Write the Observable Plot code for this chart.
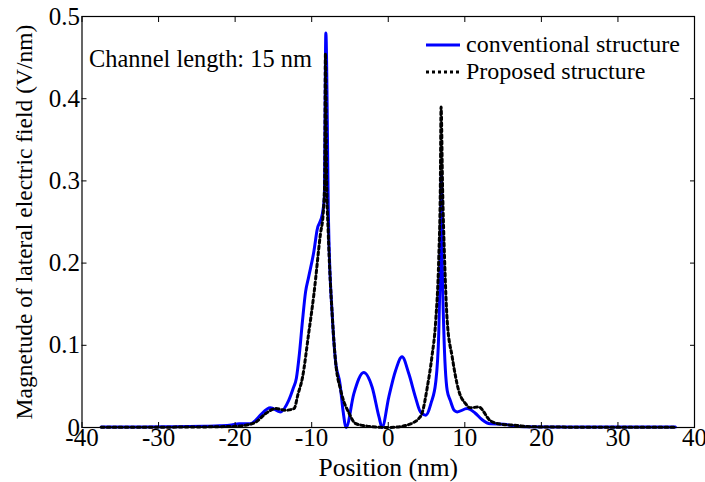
<!DOCTYPE html>
<html>
<head>
<meta charset="utf-8">
<script src="https://cdn.jsdelivr.net/npm/d3@7"></script>
<script src="https://cdn.jsdelivr.net/npm/@observablehq/plot@0.6"></script>
<style>
  body { margin: 0; background: #fff; }
  #chart { position: relative; width: 705px; height: 482px; font-family: "Liberation Serif", "Times New Roman", serif; color: #000; }
  .legend { position: absolute; left: 426px; top: 31px; font-size: 24px; line-height: 27px; }
  .legend .row { display: flex; align-items: center; white-space: nowrap; }
  .legend svg { margin-right: 4px; }
</style>
</head>
<body>
<div id="chart"></div>
<script>
// ---- data ----
const convX = [-37.5, -32, -28, -24, -22, -20.5, -19.5, -18, -17.3, -16.7, -15.4, -14.1, -13, -12.4, -12, -11.6, -11.2, -10.8, -10.4, -9.7, -9.3, -8.6, -8.35, -8.15, -7.8, -7.3, -6.9, -6.3, -5.9, -5.5, -4.5, -3.2, -2.1, -1.2, -0.8, 0.07, 0.95, 1.8, 2.7, 3.55, 4.2, 4.9, 5.6, 6.2, 6.6, 6.8, 6.95, 7.05, 7.25, 7.7, 8.1, 8.6, 9.0, 10.3, 11.3, 12.2, 13.3, 15.1, 16.3, 17.7, 22, 30, 37.5];
const convY = [0.0005, 0.0006, 0.001, 0.0015, 0.002, 0.003, 0.0045, 0.0045, 0.009, 0.015, 0.024, 0.019, 0.033, 0.048, 0.06, 0.09, 0.13, 0.165, 0.183, 0.215, 0.24, 0.26, 0.28, 0.48, 0.25, 0.134, 0.082, 0.053, 0.02, 0.0, 0.041, 0.067, 0.049, 0.0125, 0.0, 0.037, 0.069, 0.086, 0.065, 0.037, 0.019, 0.015, 0.03, 0.055, 0.115, 0.2, 0.31, 0.207, 0.12, 0.045, 0.033, 0.021, 0.019, 0.023, 0.018, 0.01, 0.0045, 0.004, 0.002, 0.0008, 0.0006, 0.0005, 0.0005];

const propX = [-37.5, -30, -25, -22, -19.9, -18.5, -17.3, -16, -14.7, -13.4, -12.3, -11.8, -11.2, -10.4, -9.7, -8.85, -8.5, -8.3, -8.2, -8.05, -7.85, -7.3, -6.9, -6.2, -5.1, -4.3, -3, -1.5, 0, 1.5, 2.5, 3.3, 4.0, 4.4, 5.1, 5.7, 6.2, 6.6, 6.8, 6.9, 7.1, 7.35, 7.7, 8.35, 9.2, 10.1, 10.7, 11.8, 13.3, 14.4, 16.8, 18.5, 22, 30, 37.5];
const propY = [0.0003, 0.0004, 0.0006, 0.001, 0.0015, 0.003, 0.0065, 0.017, 0.023, 0.021, 0.023, 0.04, 0.061, 0.114, 0.163, 0.236, 0.26, 0.3, 0.455, 0.3, 0.24, 0.134, 0.082, 0.045, 0.017, 0.005, 0.002, 0.0005, 0.0, 0.001, 0.003, 0.006, 0.011, 0.017, 0.049, 0.086, 0.13, 0.207, 0.29, 0.39, 0.29, 0.207, 0.13, 0.086, 0.045, 0.029, 0.024, 0.025, 0.0085, 0.0045, 0.0025, 0.001, 0.0005, 0.0003, 0.0003];

const seriesNames = ["conventional structure", "Proposed structure"];
const xTicks = [-40, -30, -20, -10, 0, 10, 20, 30, 40];
const yTicks = [0, 0.1, 0.2, 0.3, 0.4, 0.5];
const xLabel = "Position (nm)";
const yLabel = "Magnetude of lateral electric field (V/nm)";
const annotation = "Channel length: 15 nm";

// ---- build ----
const conv = convX.map((x, i) => ({x, y: convY[i]}));
const prop = propX.map((x, i) => ({x, y: propY[i]}));
const font = '"Liberation Serif", "Times New Roman", serif';

const plot = Plot.plot({
  width: 705,
  height: 482,
  marginLeft: 81.5,
  marginRight: 11,
  marginTop: 16,
  marginBottom: 55,
  style: {fontFamily: font, fontSize: "25px", color: "#000", background: "#fff", overflow: "visible"},
  x: {domain: [-40, 40]},
  y: {domain: [0, 0.5]},
  marks: [
    Plot.line(conv, {x: "x", y: "y", stroke: "#0000ff", strokeWidth: 3, curve: "monotone-x"}),
    Plot.line(prop, {x: "x", y: "y", stroke: "#000", strokeWidth: 3, strokeDasharray: "3,3", curve: "monotone-x"}),
    Plot.frame({stroke: "#000", strokeWidth: 1.2}),
    Plot.axisX({ticks: xTicks, anchor: "bottom", tickSize: 0, tickPadding: 1, tickFormat: d => String(d), label: null, fontSize: 25}),
    Plot.axisX({ticks: xTicks, anchor: "bottom", tickSize: -5, tickFormat: () => "", label: null}),
    Plot.axisX({ticks: xTicks, anchor: "top", tickSize: -5, tickFormat: () => "", label: null}),
    Plot.axisY({ticks: yTicks, anchor: "left", tickSize: 0, tickPadding: 2, tickFormat: d => String(d), label: null, fontSize: 25}),
    Plot.axisY({ticks: yTicks, anchor: "left", tickSize: -5, tickFormat: () => "", label: null}),
    Plot.axisY({ticks: yTicks, anchor: "right", tickSize: -5, tickFormat: () => "", label: null}),
    Plot.text([xLabel], {frameAnchor: "bottom", lineAnchor: "middle", textAnchor: "middle", dy: 40, fontSize: 25.5, fill: "#000"}),
    Plot.text([yLabel], {frameAnchor: "left", textAnchor: "middle", lineAnchor: "middle", dx: -58, rotate: -90, fontSize: 23.5, fill: "#000"}),
    Plot.text([annotation], {frameAnchor: "top-left", textAnchor: "start", lineAnchor: "middle", dx: 7, dy: 43, fontSize: 24.4, fill: "#000"})
  ]
});

const chart = document.getElementById("chart");
chart.appendChild(plot);

const legend = document.createElement("div");
legend.className = "legend";
const styles = [
  {stroke: "#0000ff", dash: null},
  {stroke: "#000", dash: "3,3"}
];
seriesNames.forEach((name, i) => {
  const row = document.createElement("div");
  row.className = "row";
  const s = styles[i];
  row.innerHTML = `<svg width="36" height="10"><line x1="0" x2="34" y1="5" y2="5" stroke="${s.stroke}" stroke-width="3" ${s.dash ? `stroke-dasharray="${s.dash}"` : ""}/></svg><span>${name}</span>`;
  legend.appendChild(row);
});
chart.appendChild(legend);
</script>
</body>
</html>
